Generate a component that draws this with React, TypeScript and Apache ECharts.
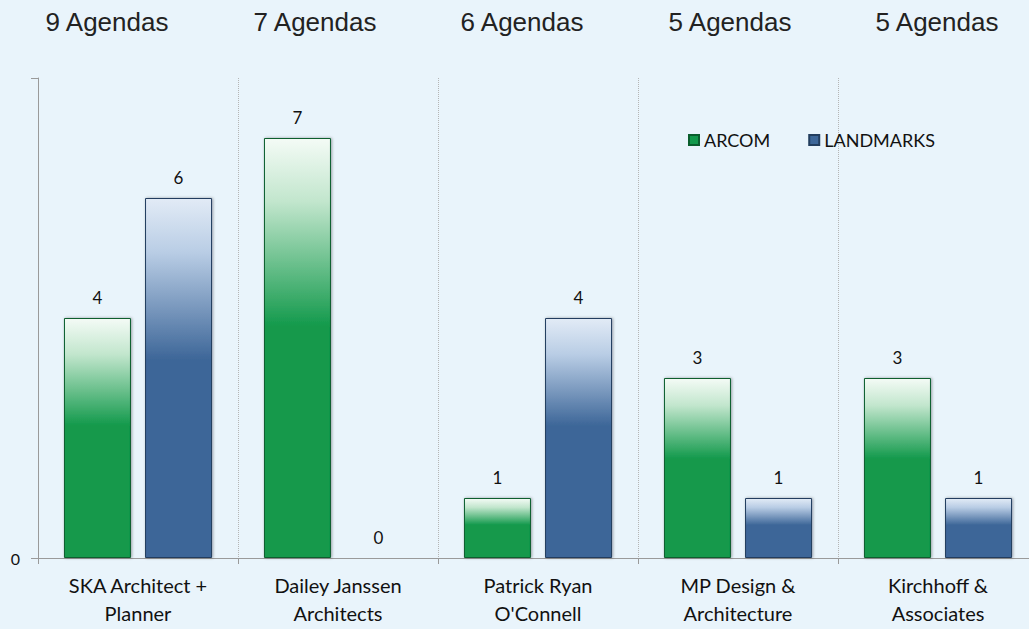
import React, { useEffect, useRef } from "react";
import * as echarts from "echarts";

const categories = [
  "SKA Architect +\nPlanner",
  "Dailey Janssen\nArchitects",
  "Patrick Ryan\nO'Connell",
  "MP Design &\nArchitecture",
  "Kirchhoff &\nAssociates",
];
const arcom = [4, 7, 1, 3, 3];
const landmarks = [6, 0, 4, 1, 1];
const agendaLabels = ["9 Agendas", "7 Agendas", "6 Agendas", "5 Agendas", "5 Agendas"];
const agendaCenters = [107, 315, 522, 730, 937];

const FONT = "Lato, 'Open Sans', sans-serif";

function barStyle(light: string, mid: string, base: string, edge: string) {
  return {
    color: new echarts.graphic.LinearGradient(0, 0, 0, 1, [
      { offset: 0, color: light },
      { offset: 0.15, color: mid },
      { offset: 0.45, color: base },
      { offset: 1, color: base },
    ]),
    borderColor: edge,
    borderWidth: 1,
    shadowColor: "rgba(0,0,0,0.35)",
    shadowBlur: 3,
    shadowOffsetX: 1,
    shadowOffsetY: 0,
  };
}

export default function App() {
  const ref = useRef<HTMLDivElement>(null);
  useEffect(() => {
    if (!ref.current) return;
    const chart = echarts.init(ref.current, undefined, { renderer: "svg" });
    const label = {
      show: true,
      position: "top" as const,
      distance: 12,
      fontSize: 17,
      color: "#111",
      fontFamily: FONT,
    };
    chart.setOption({
      animation: false,
      backgroundColor: "#e9f4fb",
      textStyle: { fontFamily: FONT },
      grid: { left: 38, top: 78, width: 1000, height: 480, outerBoundsMode: "none", containLabel: false },
      legend: {
        left: 683,
        top: 126,
        itemWidth: 10,
        itemHeight: 10,
        itemGap: 38,
        icon: "rect",
        textStyle: { fontSize: 18, color: "#111", fontFamily: FONT },
        data: [
          { name: "ARCOM", itemStyle: { color: "#12994b" } },
          { name: "LANDMARKS", itemStyle: { color: "#3d6698" } },
        ],
      },
      graphic: agendaLabels.map((t, i) => ({
        type: "text",
        x: agendaCenters[i],
        y: 22,
        style: {
          text: t,
          fontSize: 26,
          fontFamily: "'Liberation Sans', Arial, sans-serif",
          fill: "#222",
          textAlign: "center",
          textVerticalAlign: "middle",
        },
      })),
      xAxis: {
        type: "category",
        data: categories,
        axisLine: { show: true, lineStyle: { color: "#9a9a9a", width: 1 } },
        axisTick: { show: true, length: 6, lineStyle: { color: "#9a9a9a" } },
        splitLine: { show: true, lineStyle: { color: "#b5b5b5", type: "dotted" } },
        axisLabel: {
          fontSize: 20,
          color: "#111",
          lineHeight: 28,
          margin: 13,
          interval: 0,
          fontFamily: FONT,
        },
      },
      yAxis: {
        type: "value",
        min: 0,
        max: 8,
        interval: 8,
        axisLine: { show: true, lineStyle: { color: "#9a9a9a", width: 1 } },
        axisTick: { show: true, length: 7, lineStyle: { color: "#9a9a9a" } },
        splitLine: { show: false },
        axisLabel: {
          fontSize: 16,
          color: "#111",
          margin: 18,
          fontFamily: FONT,
          formatter: (v: number) => (v === 0 ? "0" : ""),
        },
      },
      series: [
        {
          name: "ARCOM",
          type: "bar",
          data: arcom,
          barWidth: 67,
          barGap: "21%",
          itemStyle: barStyle("#f4fbf6", "#c2e6cd", "#12994b", "#0a5e2d"),
          label,
        },
        {
          name: "LANDMARKS",
          type: "bar",
          data: landmarks,
          barWidth: 67,
          itemStyle: barStyle("#e2ebf6", "#b9cde5", "#3d6698", "#223d5e"),
          label,
        },
      ],
    });
    return () => chart.dispose();
  }, []);
  return (
    <div
      ref={ref}
      style={{ position: "absolute", left: 0, top: 0, width: 1029, height: 629 }}
    />
  );
}
